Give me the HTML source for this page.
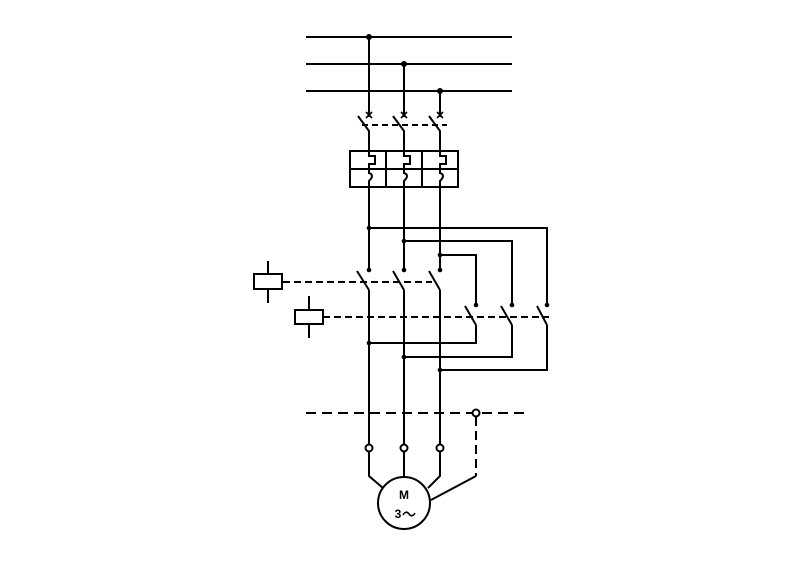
<!DOCTYPE html>
<html><head><meta charset="utf-8"><style>html,body{margin:0;background:#fff}svg{display:block}</style></head><body>
<svg width="800" height="565" viewBox="0 0 800 565" stroke="#000" stroke-width="2" fill="none" font-family="Liberation Sans, sans-serif">
<g>
<line x1="306" y1="37" x2="512" y2="37"/><line x1="306" y1="64" x2="512" y2="64"/><line x1="306" y1="91" x2="512" y2="91"/>
<circle cx="369" cy="37" r="2" fill="#000"/><circle cx="404" cy="64" r="2" fill="#000"/><circle cx="440" cy="91" r="2" fill="#000"/>
<line x1="369" y1="37" x2="369" y2="117"/><line x1="404" y1="64" x2="404" y2="117"/><line x1="440" y1="91" x2="440" y2="117"/>
</g>
<g>
<g stroke-width="1.6">
<path d="M366 112l6 6M372 112l-6 6M401 112l6 6M407 112l-6 6M437 112l6 6M443 112l-6 6"/></g>
<path d="M358 116L369 131V151M393 116L404 131V151M429 116L440 131V151"/>
<line x1="362" y1="125" x2="447" y2="125" stroke-dasharray="6,4"/>
</g>
<g>
<rect x="350" y="151" width="108" height="36"/>
<line x1="350" y1="169" x2="458" y2="169"/><line x1="386" y1="151" x2="386" y2="187"/><line x1="422" y1="151" x2="422" y2="187"/>
<path d="M369 151V156H375V164H369V169M404 151V156H410V164H404V169M440 151V156H446V164H440V169"/>
<path d="M369 169V173Q375 175 369 181V187M404 169V173Q410 175 404 181V187M440 169V173Q446 175 440 181V187"/>
</g>
<g>
<line x1="369" y1="187" x2="369" y2="270"/><line x1="404" y1="187" x2="404" y2="270"/><line x1="440" y1="187" x2="440" y2="270"/>
<path d="M369 228H547V305M404 241H512V305M440 255H476V305"/>
<path d="M369 343H476V325M404 357H512V325M440 370H547V325"/>
<line x1="369" y1="290" x2="369" y2="448"/><line x1="404" y1="290" x2="404" y2="448"/><line x1="440" y1="290" x2="440" y2="448"/>
<g fill="#000" stroke="none">
<circle cx="369" cy="228" r="2.3"/><circle cx="404" cy="241" r="2.3"/><circle cx="440" cy="255" r="2.3"/>
<circle cx="369" cy="270" r="2.3"/><circle cx="404" cy="270" r="2.3"/><circle cx="440" cy="270" r="2.3"/>
<circle cx="476" cy="305" r="2.3"/><circle cx="512" cy="305" r="2.3"/><circle cx="547" cy="305" r="2.3"/>
<circle cx="369" cy="343" r="2.3"/><circle cx="404" cy="357" r="2.3"/><circle cx="440" cy="370" r="2.3"/>
</g>
</g>
<g>
<path d="M357 271L369 290M393 271L404 290M429 271L440 290"/>
<line x1="283" y1="282" x2="432" y2="282" stroke-dasharray="7,4"/>
<rect x="254" y="274" width="28" height="15"/>
<line x1="268" y1="261" x2="268" y2="274"/><line x1="268" y1="289" x2="268" y2="303"/>
</g>
<g>
<path d="M465 306L476 325M501 306L512 325M537 306L547 325"/>
<line x1="323" y1="317" x2="549" y2="317" stroke-dasharray="7,4"/>
<rect x="295" y="310" width="28" height="14"/>
<line x1="309" y1="296" x2="309" y2="310"/><line x1="309" y1="324" x2="309" y2="338"/>
</g>
<g>
<line x1="306" y1="413" x2="526" y2="413" stroke-dasharray="10,6"/>
<circle cx="476" cy="413" r="3.5" fill="#fff"/>
<line x1="476" y1="417" x2="476" y2="476" stroke-dasharray="9,5"/>
<line x1="476" y1="476" x2="431" y2="500"/>
</g>
<g>
<path d="M369 452V476L383 488M404 452V477M440 452V476L428 488"/>
<circle cx="369" cy="448" r="3.5" fill="#fff"/><circle cx="404" cy="448" r="3.5" fill="#fff"/><circle cx="440" cy="448" r="3.5" fill="#fff"/>
</g>
<g>
<circle cx="404" cy="503" r="26"/>
<text x="404" y="499" text-anchor="middle" font-size="12" font-weight="bold" fill="#000" stroke="none">M</text>
<text x="398" y="518" text-anchor="middle" font-size="12" font-weight="bold" fill="#000" stroke="none">3</text>
<path d="M403 515q3-5 6-1t6-1" stroke-width="1.6"/>
</g>
</svg>
</body></html>
